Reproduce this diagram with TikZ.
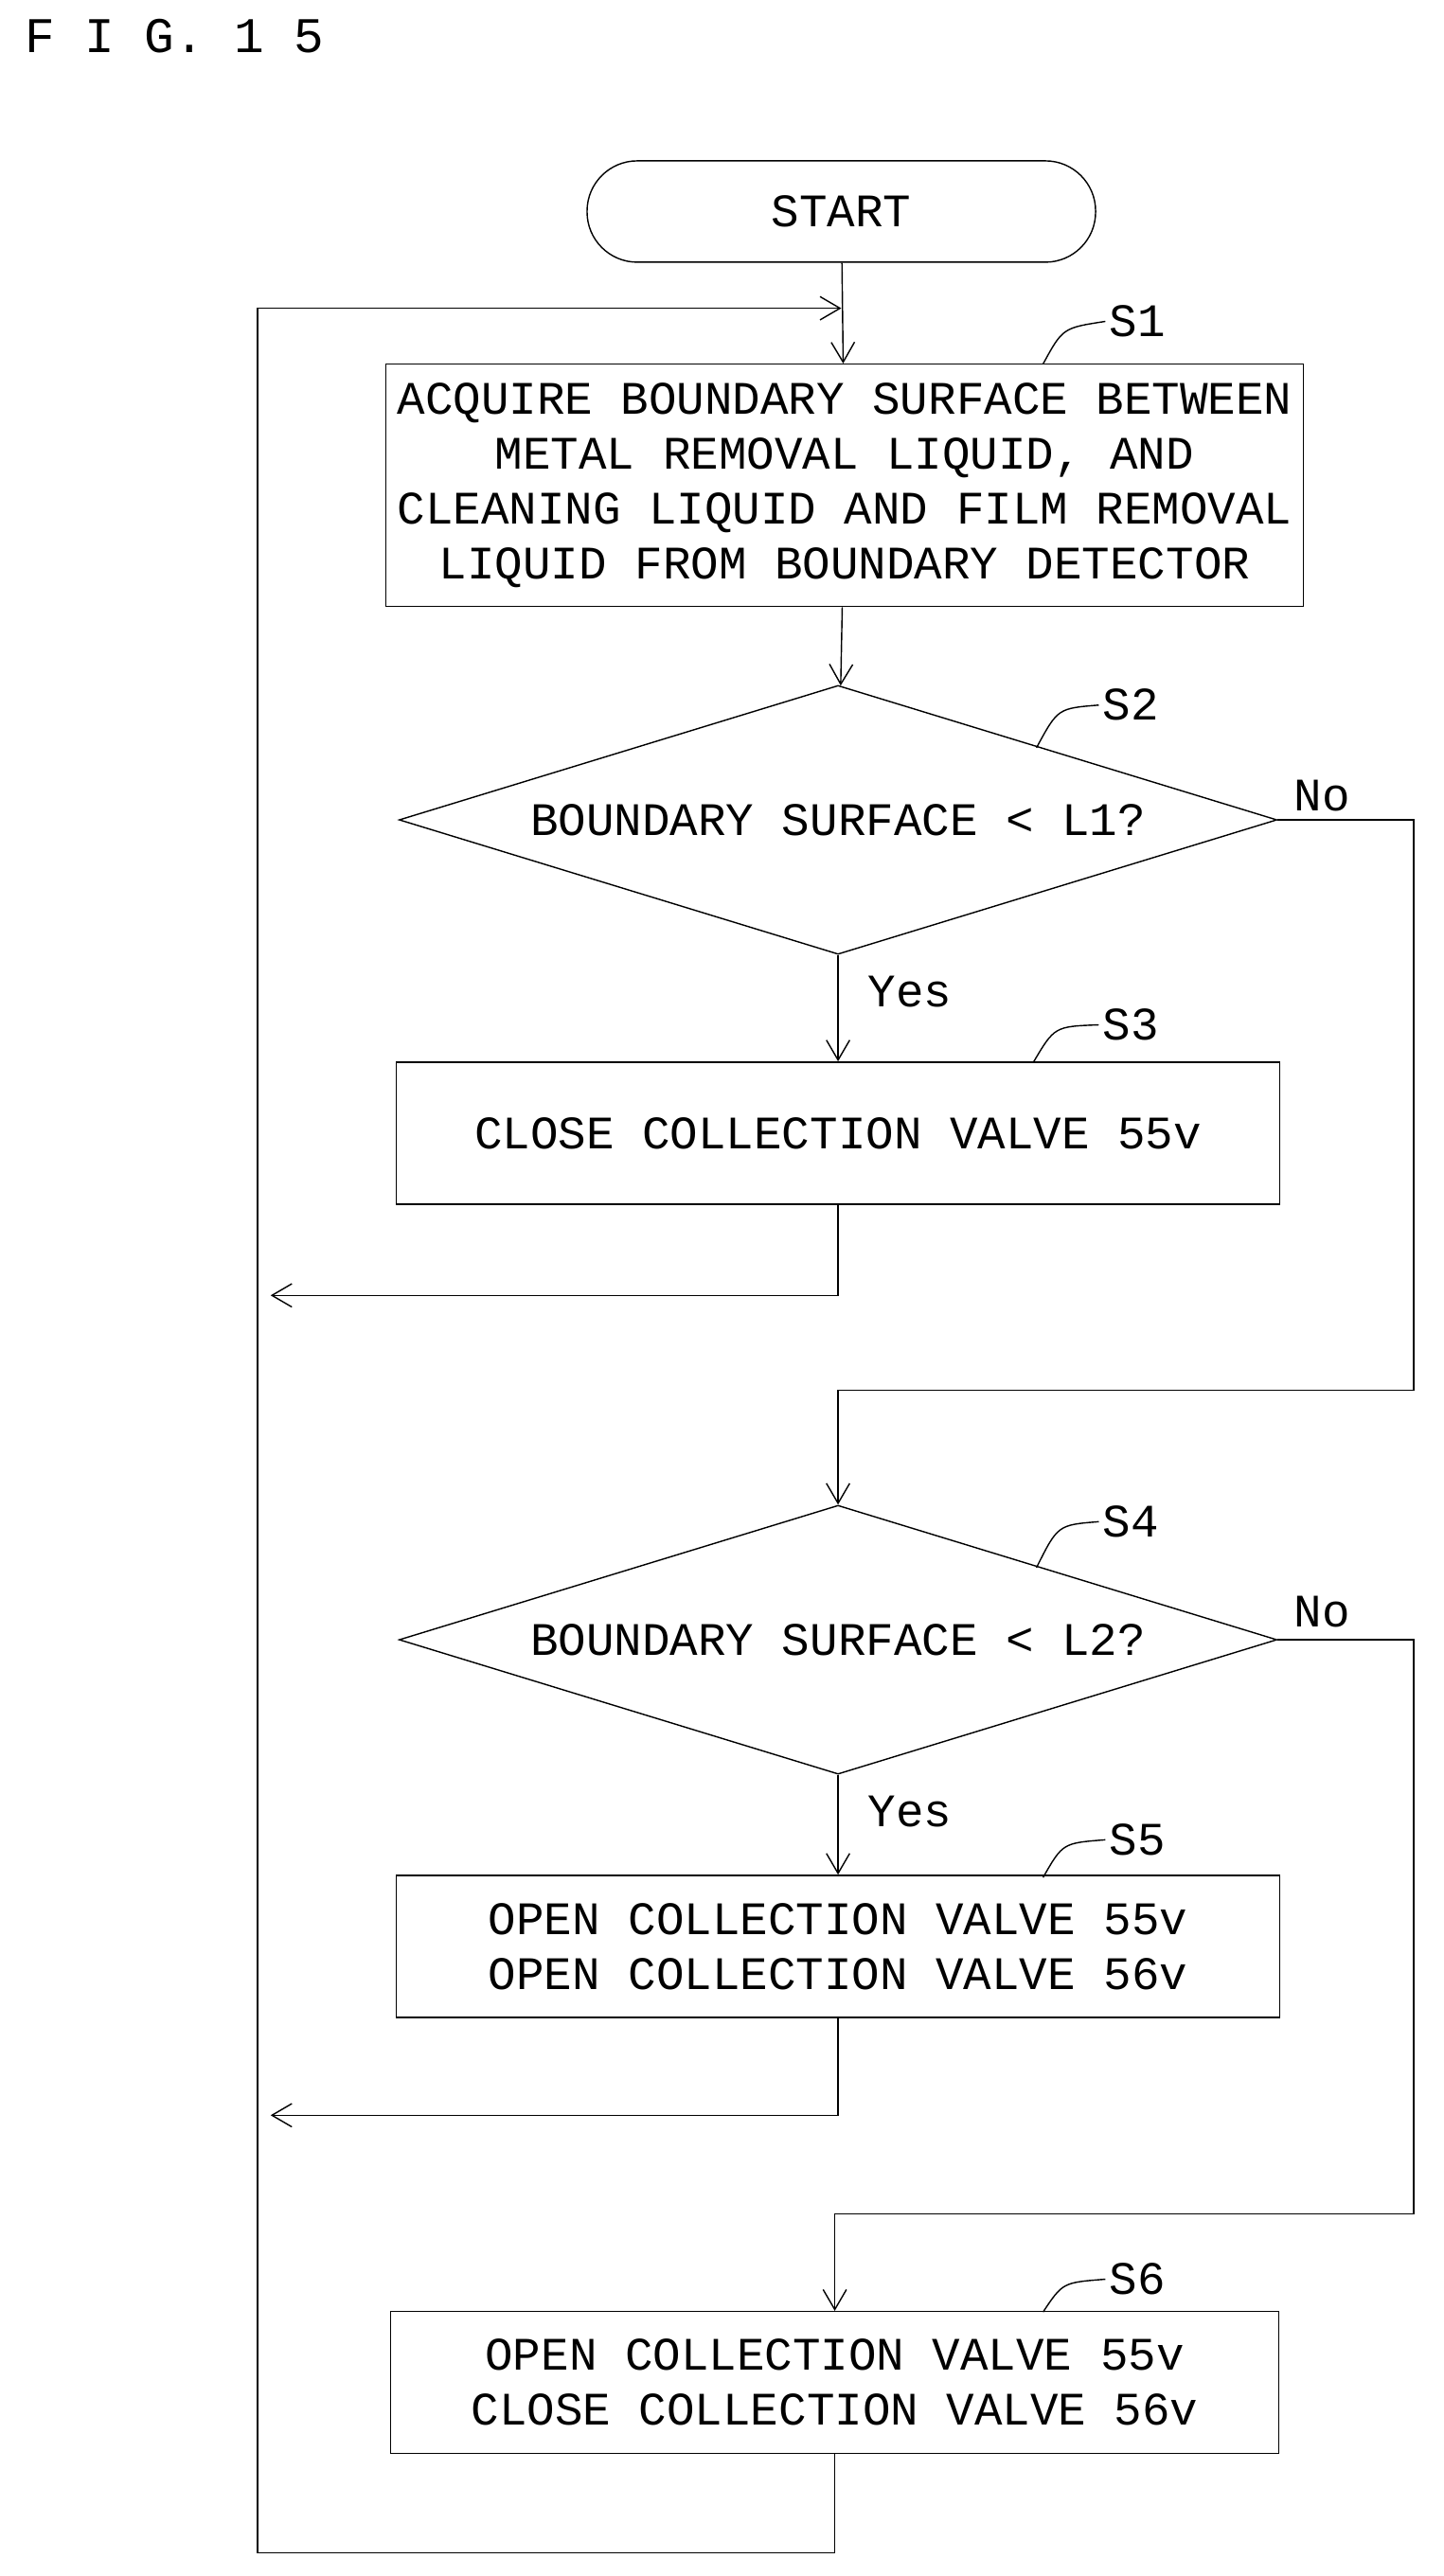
\documentclass[tikz,border=0pt]{standalone}
\usepackage{fontspec}
\setmonofont{Liberation Mono}
\usetikzlibrary{positioning}
\usetikzlibrary{shapes}
\usetikzlibrary{arrows.meta}
\begin{document}
\begin{tikzpicture}[x=0.01732cm, y=-0.01732cm, font=\ttfamily\fontsize{14}{16.5}\selectfont,
  box/.style={rectangle, draw, align=center, minimum width=9.33cm, minimum height=1.5cm},
  dec/.style={diamond, draw, aspect=3.26, inner sep=0pt, minimum width=9.27cm, minimum height=2.84cm},
  lab/.style={anchor=west, inner sep=1pt},
  flow/.style={-{Straight Barb[length=6pt,width=7pt]}}]
  \useasboundingbox (0,0) rectangle (880,1571);
  \node[anchor=west, font=\ttfamily\fontsize{15}{15}\selectfont] (fig) at (8,22) {F I G.  1 5};

  \node[draw, rounded corners=0.53cm, minimum width=5.37cm, minimum height=1.07cm] (start) at (513,129) {START};
  \node[box, minimum width=9.68cm, minimum height=2.56cm] (s1) at (515,296) {ACQUIRE BOUNDARY SURFACE BETWEEN\\METAL REMOVAL LIQUID, AND\\CLEANING LIQUID AND FILM REMOVAL\\LIQUID FROM BOUNDARY DETECTOR};
  \node[dec] (s2) at (511,500) {BOUNDARY SURFACE < L1?};
  \node[box] (s3) at (511,691) {CLOSE COLLECTION VALVE 55v};
  \node[dec] (s4) at (511,1000) {BOUNDARY SURFACE < L2?};
  \node[box] (s5) at (511,1187) {OPEN COLLECTION VALVE 55v\\OPEN COLLECTION VALVE 56v};
  \node[box, minimum width=9.38cm] (s6) at (509,1453) {OPEN COLLECTION VALVE 55v\\CLOSE COLLECTION VALVE 56v};

  % step labels
  \node[lab] (l1) at (674,196) {S1};
  \node[lab] (l2) at (670,430) {S2};
  \node[lab] (l3) at (670,625) {S3};
  \node[lab] (l4) at (670,928) {S4};
  \node[lab] (l5) at (674,1122) {S5};
  \node[lab] (l6) at (674,1390) {S6};
  \draw (636,222) .. controls (648,200) .. (l1.west);
  \draw (632,456) .. controls (645,432) .. (l2.west);
  \draw (630,648) .. controls (643,626) .. (l3.west);
  \draw (632,956) .. controls (645,930) .. (l4.west);
  \draw (636,1145) .. controls (648,1124) .. (l5.west);
  \draw (636,1410) .. controls (648,1392) .. (l6.west);

  \node[anchor=west] (no1) at (782,485) {No};
  \node[anchor=west] (no2) at (782,983) {No};
  \node[anchor=west] (yes1) at (522,605) {Yes};
  \node[anchor=west] (yes2) at (522,1105) {Yes};

  \coordinate (top) at (513,188);
  \coordinate (ret3) at (165,790);
  \coordinate (ret5) at (165,1290);

  \draw[flow] (start) -- (s1);
  \draw[flow] (s1) -- (s2);
  \draw[flow] (s2) -- (s3);
  \draw[flow] (s4) -- (s5);
  \draw[flow] (s2.east) -| (862,848) -| (s4.north);
  \draw[flow] (s4.east) -| (862,1350) -| (s6.north);
  \draw[flow] (s3.south) |- (ret3);
  \draw[flow] (s5.south) |- (ret5);
  \draw[flow] (s6.south) |- (157,1557) |- (top);
\end{tikzpicture}
\end{document}
